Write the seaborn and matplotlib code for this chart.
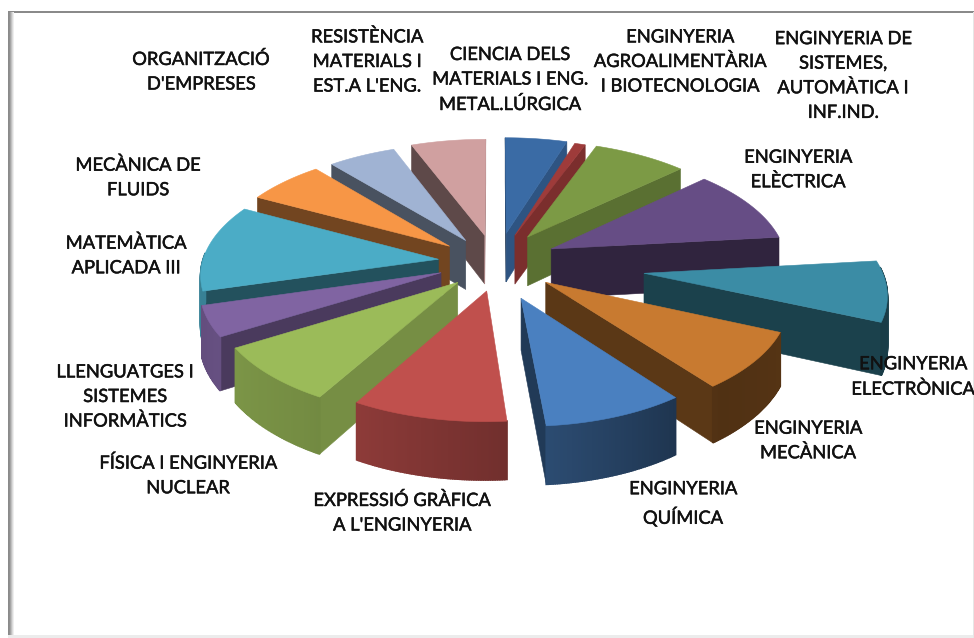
import numpy as np
import matplotlib
matplotlib.use("Agg")
import matplotlib.pyplot as plt
import matplotlib.patheffects as pe
from matplotlib.patches import Polygon, Rectangle
import seaborn as sns

departments = [
    "CIENCIA DELS\nMATERIALS I ENG.\nMETAL.LÚRGICA",
    "ENGINYERIA\nAGROALIMENTÀRIA\nI BIOTECNOLOGIA",
    "ENGINYERIA DE\nSISTEMES,\nAUTOMÀTICA I\nINF.IND.",
    "ENGINYERIA\nELÈCTRICA",
    "ENGINYERIA\nELECTRÒNICA",
    "ENGINYERIA\nMECÀNICA",
    "ENGINYERIA\nQUÍMICA",
    "EXPRESSIÓ GRÀFICA\nA L'ENGINYERIA",
    "FÍSICA I ENGINYERIA\nNUCLEAR",
    "LLENGUATGES I\nSISTEMES\nINFORMÀTICS",
    "MATEMÀTICA\nAPLICADA III",
    "MECÀNICA DE\nFLUIDS",
    "ORGANITZACIÓ\nD'EMPRESES",
    "RESISTÈNCIA\nMATERIALS I\nEST.A L'ENG.",
]
shares = [17.4, 3, 26.5, 37, 30, 29, 32.5, 34.5, 29, 15.5, 44, 22, 19, 21]

# --- styling / layout, kept apart from the data ---
explode = [62, 60, 64, 66, 152, 67, 78, 60, 58, 55, 54, 53, 53, 58]
nudge_x = [5, 4, 1, 0, 0, 0, 0, 8, 7, 0, 0, -2, 0, 3]
radius_scale = [1, 1, 1, 1, 1, 1, 0.93, 0.96, 1, 1, 1, 1, 1, 1]
top_colors = ["#3A6BA5", "#9E3B3A", "#7C9A45", "#664D85", "#3B8CA5", "#C87A30", "#4A80C0",
              "#C0504D", "#9BBB59", "#8064A2", "#4BACC6", "#F79646", "#A0B3D3", "#D0A0A0"]
label_xy = [(510, 80), (680, 62), (843, 76), (798, 170), (913, 377), (808, 441), (683, 504),
            (402, 513), (188, 476), (125, 397), (126, 256), (138, 178), (201, 72), (367, 62)]
CX, CY, R, SQ, K, DEPTH = 492.0, 262.0, 236.0, 0.48, 0.0005, 50.0

sns.set_theme(style="white")
plt.rcParams["font.family"] = ["Lato", "DejaVu Sans"]
palette = sns.color_palette(top_colors)

fig = plt.figure(figsize=(9.74, 6.38), dpi=100, facecolor="white")
ax = fig.add_axes([0, 0, 1, 1])
ax.set_xlim(0, 974)
ax.set_ylim(638, 0)
ax.axis("off")

# picture frame
ax.add_patch(Rectangle((8, 11), 966, 2.2, color="#8a8a8a", lw=0))
for i, c in enumerate(["#8a8a8a", "#8f8f8f", "#a5a5a5", "#c0c0c0", "#dadada", "#eeeeee"]):
    ax.add_patch(Rectangle((8 + i, 12), 1.1, 626, color=c, lw=0))
ax.add_patch(Rectangle((8, 635), 966, 3, color="#ececec", lw=0))
ax.add_patch(Rectangle((972.5, 12), 1.5, 626, color="#e6e6e6", lw=0))


def project(X, Y, z=0.0, shift=0.0):
    p = 1.0 / (1.0 + K * Y)
    return CX + shift + X * p, CY - SQ * Y * p + z * DEPTH * p


def shade(c, f):
    return tuple(min(1, v * f) for v in c)


def wall_factor(normal):
    return np.interp(normal, [100, 140, 155, 270], [0.8, 0.72, 0.47, 0.45])


def rim_factor(a):
    return np.interp(a, [90, 140, 173, 213, 240, 270], [0.45, 0.40, 0.58, 0.75, 0.80, 0.75])


def poly(pts, color, z, lw=0.4):
    ax.add_patch(Polygon(pts, closed=True, facecolor=color, edgecolor=color, lw=lw, zorder=z))


angles = np.cumsum([0] + shares) / sum(shares) * 360.0
mids = (angles[:-1] + angles[1:]) / 2
order = np.argsort(-np.cos(np.radians(mids)))

for rank, i in enumerate(order):
    a0, a1 = angles[i], angles[i + 1]
    m = np.radians(mids[i])
    ox, oy = explode[i] * np.sin(m), explode[i] * np.cos(m)
    col = palette[i]
    z = 2 + rank
    r = R * radius_scale[i]
    s = nudge_x[i]

    th = np.linspace(a0, a1, max(int(a1 - a0) * 2, 4))
    xs = ox + r * np.sin(np.radians(th))
    ys = oy + r * np.cos(np.radians(th))

    # radial walls
    for a, normal in ((a0, a0 - 90), (a1, a1 + 90)):
        if np.cos(np.radians(normal)) < 0.02:
            nx = ox + r * np.sin(np.radians(a))
            ny = oy + r * np.cos(np.radians(a))
            poly([project(ox, oy, 0, s), project(nx, ny, 0, s),
                  project(nx, ny, 1, s), project(ox, oy, 1, s)],
                 shade(col, wall_factor(normal % 360)), z)
    # outer rim, shaded along its length
    for j in range(len(th) - 1):
        if np.cos(np.radians(th[j])) < 0.05 or np.cos(np.radians(th[j + 1])) < 0.05:
            poly([project(xs[j], ys[j], 0, s), project(xs[j + 1], ys[j + 1], 0, s),
                  project(xs[j + 1], ys[j + 1], 1, s), project(xs[j], ys[j], 1, s)],
                 shade(col, rim_factor(th[j])), z, lw=1.2)
    # top face
    poly([project(ox, oy, 0, s)] + [project(x, y, 0, s) for x, y in zip(xs, ys)], col, z + 0.5)

for text, (x, y) in zip(departments, label_xy):
    ax.text(x, y, text, ha="center", va="center", fontsize=13.2, color="#111111",
            linespacing=1.66, zorder=100,
            path_effects=[pe.withStroke(linewidth=0.35, foreground="#111111")])

fig.savefig("out.png", dpi=100, facecolor="white")
